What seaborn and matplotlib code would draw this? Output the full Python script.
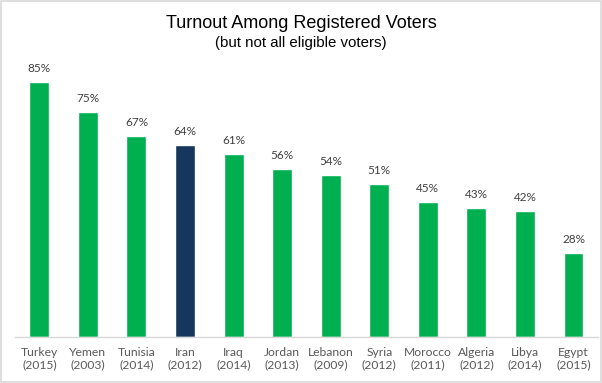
import matplotlib
matplotlib.use("Agg")
import matplotlib.pyplot as plt
import pandas as pd
import seaborn as sns
from matplotlib.patches import Rectangle

countries = ["Turkey", "Yemen", "Tunisia", "Iran", "Iraq", "Jordan",
             "Lebanon", "Syria", "Morocco", "Algeria", "Libya", "Egypt"]
years = ["2015", "2003", "2014", "2012", "2014", "2013",
         "2009", "2012", "2011", "2012", "2014", "2015"]
turnout = [85, 75, 67, 64, 61, 56, 54, 51, 45, 43, 42, 28]
highlight = "Iran"

GREEN = "#00B050"
NAVY = "#17365D"

labels = [f"{c}\n({y})" for c, y in zip(countries, years)]
df = pd.DataFrame({"label": labels, "turnout": turnout, "country": countries})
palette = {lab: (NAVY if c == highlight else GREEN) for lab, c in zip(labels, countries)}

sns.set_style("white")
plt.rcParams["font.family"] = ["Lato", "DejaVu Sans"]

fig = plt.figure(figsize=(6.02, 3.83), dpi=100)
ax = fig.add_axes([0.025, 0.12, 0.968, 0.783])

sns.barplot(data=df, x="label", y="turnout", hue="label", palette=palette,
            width=0.41, legend=False, ax=ax, saturation=1)

for i, v in enumerate(turnout):
    ax.text(i, v + 2.8, f"{v}%", ha="center", va="bottom",
            fontsize=8.5, color="#404040")

ax.set_ylim(0, 100)
ax.set_xlim(-0.5, len(countries) - 0.5)
ax.set_xlabel("")
ax.set_ylabel("")
ax.set_yticks([])
ax.tick_params(axis="x", length=0, pad=7, labelsize=8.7, labelcolor="#595959")
for side in ["top", "right", "left"]:
    ax.spines[side].set_visible(False)
ax.spines["bottom"].set_color("#D9D9D9")
ax.spines["bottom"].set_linewidth(1)

fig.text(0.5, 0.938, "Turnout Among Registered Voters", ha="center", va="center",
         fontsize=13, color="black", family=["Liberation Sans", "DejaVu Sans"])
fig.text(0.5, 0.889, "(but not all eligible voters)", ha="center", va="center",
         fontsize=10.8, color="black", family=["Liberation Sans", "DejaVu Sans"])

fig.patches.append(Rectangle((0.001, 0.002), 0.997, 0.995, transform=fig.transFigure,
                             fill=False, edgecolor="#D9D9D9", linewidth=1.2))

fig.savefig("out.png", dpi=100, facecolor="white")
